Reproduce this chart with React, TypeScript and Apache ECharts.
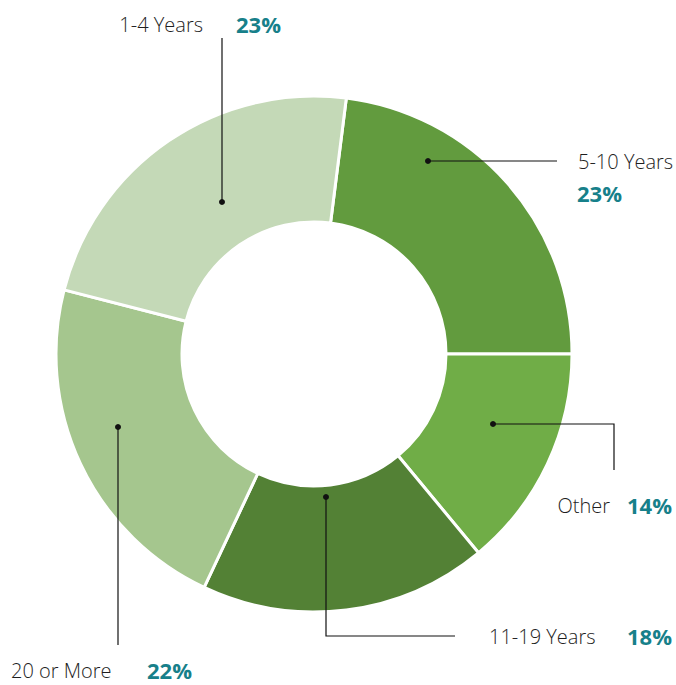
import React, { useEffect, useRef } from "react";
import * as echarts from "echarts";

const categories = ["5-10 Years", "Other", "11-19 Years", "20 or More", "1-4 Years"];
const values = [23, 14, 18, 22, 23];
const colors = ["#629b3e", "#70ad47", "#538135", "#a5c68e", "#c4d9b7"];

const TEAL = "#17808a";
const TXT = "#1e1e1e";
const FONT = "'Open Sans', 'Noto Sans', sans-serif";

export default function App() {
  const ref = useRef<HTMLDivElement>(null);
  useEffect(() => {
    if (!ref.current) return;
    const chart = echarts.init(ref.current, undefined, { renderer: "svg" });
    const pct = (name: string) => values[categories.indexOf(name)] + "%";
    const lineStyle = { stroke: "#111", lineWidth: 1.2, fill: null };
    const dot = (x: number, y: number) => ({
      type: "circle",
      shape: { cx: x, cy: y, r: 3 },
      style: { fill: "#111" },
      z: 10,
    });
    const nameText = (s: string, x: number, y: number, align: string) => ({
      type: "text",
      x,
      y,
      style: {
        text: s,
        fill: TXT,
        font: `300 20px ${FONT}`,
        align,
        verticalAlign: "middle",
      },
    });
    const pctText = (s: string, x: number, y: number) => ({
      type: "text",
      x,
      y,
      style: {
        text: pct(s),
        fill: TEAL,
        font: `700 22px ${FONT}`,
        align: "left",
        verticalAlign: "middle",
      },
    });
    chart.setOption({
      animation: false,
      backgroundColor: "#ffffff",
      series: [
        {
          type: "pie",
          center: [314, 354],
          radius: [132, 258],
          startAngle: 82.8,
          clockwise: true,
          label: { show: false },
          labelLine: { show: false },
          emphasis: { disabled: true },
          itemStyle: { borderColor: "#ffffff", borderWidth: 3 },
          data: categories.map((c, i) => ({
            name: c,
            value: values[i],
            itemStyle: { color: colors[i] },
          })),
        },
      ],
      graphic: [
        // 1-4 Years
        { type: "polyline", shape: { points: [[222, 38], [222, 202]] }, style: lineStyle, z: 10 },
        dot(222, 202),
        nameText("1-4 Years", 203, 24, "right"),
        pctText("1-4 Years", 236, 24),
        // 5-10 Years
        { type: "polyline", shape: { points: [[428, 161], [557, 161]] }, style: lineStyle, z: 10 },
        dot(428, 161),
        nameText("5-10 Years", 578, 161, "left"),
        pctText("5-10 Years", 577, 193),
        // Other
        { type: "polyline", shape: { points: [[493, 424], [614, 424], [614, 470]] }, style: lineStyle, z: 10 },
        dot(493, 424),
        nameText("Other", 610, 505, "right"),
        pctText("Other", 627, 505),
        // 11-19 Years
        { type: "polyline", shape: { points: [[326, 497], [326, 636], [455, 636]] }, style: lineStyle, z: 10 },
        dot(326, 497),
        nameText("11-19 Years", 489, 636, "left"),
        pctText("11-19 Years", 627, 636),
        // 20 or More
        { type: "polyline", shape: { points: [[118, 427], [118, 645]] }, style: lineStyle, z: 10 },
        dot(118, 427),
        nameText("20 or More", 11, 670, "left"),
        pctText("20 or More", 147, 670),
      ],
    });
    return () => chart.dispose();
  }, []);
  return (
    <div
      ref={ref}
      style={{ position: "fixed", left: 0, top: 0, width: 676, height: 685, background: "#fff" }}
    />
  );
}
